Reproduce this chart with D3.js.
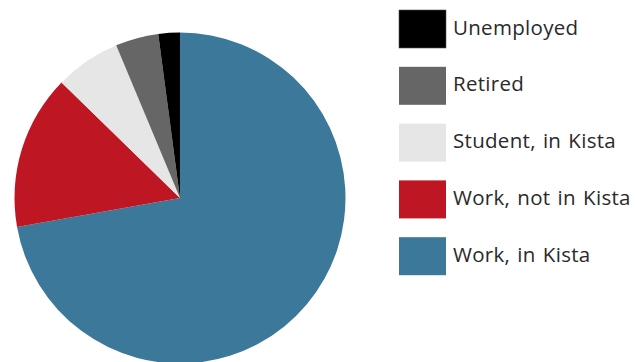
<!DOCTYPE html>
<html>
<head>
<meta charset="utf-8">
<script src="https://cdn.jsdelivr.net/npm/d3@7"></script>
<style>
  html, body { margin: 0; padding: 0; background: #fff; }
  svg { display: block; }
</style>
</head>
<body>
<svg id="chart" width="636" height="362"></svg>
<script>
// Occupation shares (%), in pie drawing order clockwise from 12 o'clock
const categories = ["Work, in Kista", "Work, not in Kista", "Student, in Kista", "Retired", "Unemployed"];
const shares = [72.2, 15.1, 6.4, 4.2, 2.1];
const colors = ["#3c7899", "#be1622", "#e6e6e6", "#666666", "#000000"];
// Legend lists the categories bottom-up
const legendOrder = ["Unemployed", "Retired", "Student, in Kista", "Work, not in Kista", "Work, in Kista"];

const svg = d3.select("#chart");
const cx = 180, cy = 198, radius = 165.5;

const color = d3.scaleOrdinal().domain(categories).range(colors);

const pie = d3.pie().sort(null).value(d => d.value);
const arc = d3.arc().innerRadius(0).outerRadius(radius);

const data = categories.map((c, i) => ({ name: c, value: shares[i] }));

svg.append("g")
  .attr("transform", `translate(${cx},${cy})`)
  .selectAll("path")
  .data(pie(data))
  .join("path")
  .attr("d", arc)
  .attr("fill", d => color(d.data.name));

// Legend
const legend = svg.append("g").attr("transform", "translate(399,10)");
const row = legend.selectAll("g")
  .data(legendOrder)
  .join("g")
  .attr("transform", (d, i) => `translate(0,${i * 56.8})`);

row.append("rect")
  .attr("x", 0).attr("y", 0)
  .attr("width", 47).attr("height", 38)
  .attr("fill", d => color(d))
  .attr("stroke", d => d === "Unemployed" ? "#555" : "none")
  .attr("stroke-width", 0.6);

row.append("text")
  .attr("x", 54).attr("y", 24.5)
  .attr("font-family", "'Open Sans', 'DejaVu Sans', sans-serif")
  .attr("font-size", 20.5)
  .attr("letter-spacing", 0.3)
  .attr("word-spacing", 1.5)
  .attr("fill", "#2a2a2a")
  .text(d => d);
</script>
</body>
</html>
